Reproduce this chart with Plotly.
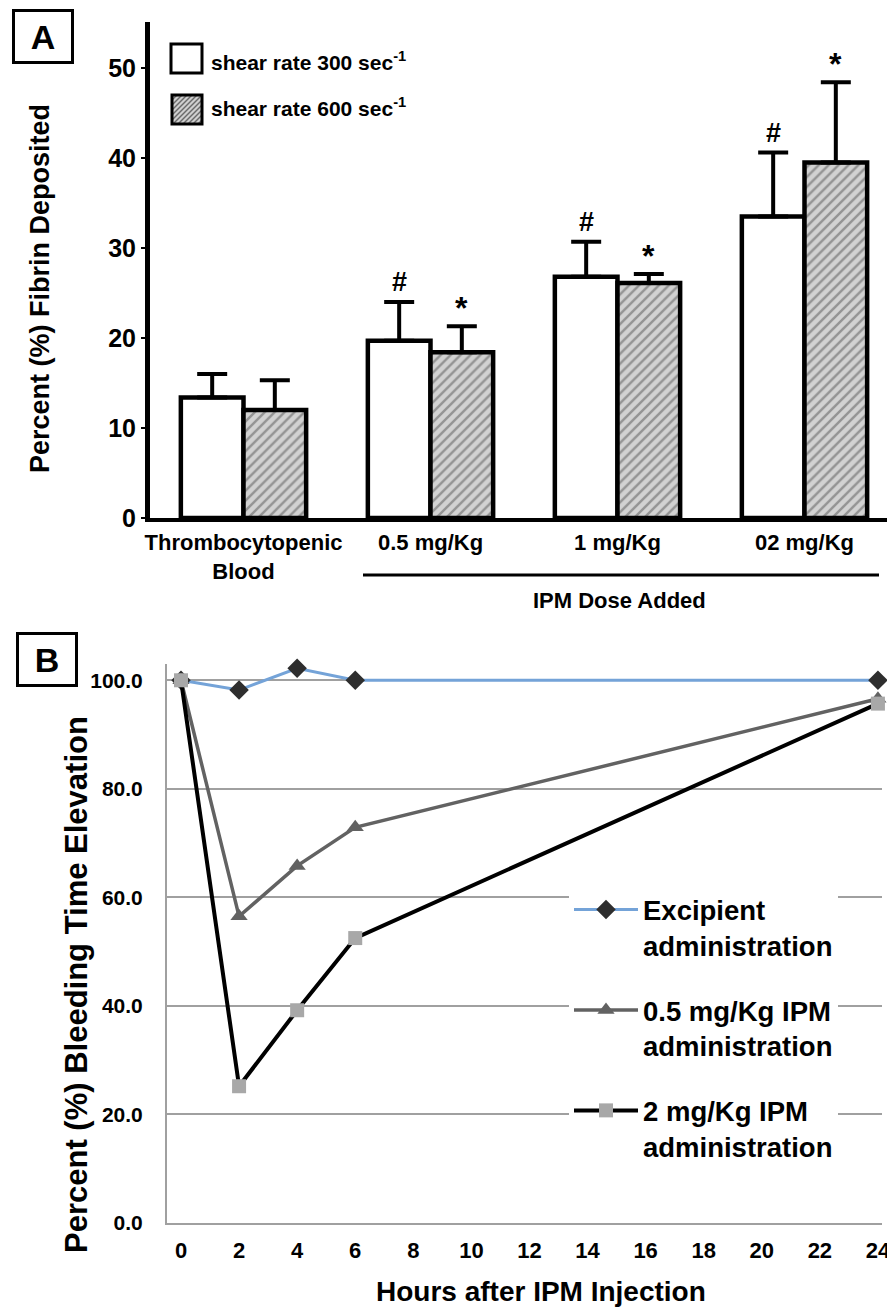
import plotly.graph_objects as go

# ---------------- Data ----------------
# Panel A
groups_a = ["Thrombocytopenic<br>Blood", "0.5 mg/Kg", "1 mg/Kg", "02 mg/Kg"]
shear300 = [13.4, 19.7, 26.8, 33.5]
shear300_err = [2.6, 4.3, 3.9, 7.1]
shear600 = [12.0, 18.4, 26.1, 39.5]
shear600_err = [3.3, 2.9, 1.0, 8.9]
sig300 = ["", "#", "#", "#"]
sig600 = ["", "*", "*", "*"]
legend_a = ["shear rate 300 sec<sup>-1</sup>", "shear rate 600 sec<sup>-1</sup>"]

# Panel B
hours = [0, 2, 4, 6, 24]
excipient = [100.0, 98.2, 102.2, 100.0, 100.0]
ipm_05 = [100.0, 56.5, 65.8, 72.9, 96.6]
ipm_2 = [100.0, 25.2, 39.2, 52.5, 95.7]
names_b = ["Excipient<br>administration", "0.5 mg/Kg IPM<br>administration",
           "2 mg/Kg IPM<br>administration"]
xticks_b = list(range(0, 25, 2))
yticks_b = [0, 20, 40, 60, 80, 100]

# page has an 8px body margin: draw a figure 8px smaller, place elements in page pixels
OFF = 8
W, H = 895 - OFF, 1311 - OFF
ARIAL = "Liberation Sans, Arial, Helvetica, sans-serif"


def px(x):
    return (x - OFF) / W


def py(y):
    return 1 - (y - OFF) / H


fig = go.Figure()

# ---------------- Panel A bars ----------------
xpos = list(range(len(groups_a)))
fig.add_trace(go.Bar(
    x=xpos, y=shear300, name=legend_a[0], showlegend=False,
    marker=dict(color="white", line=dict(color="black", width=4.5)),
    error_y=dict(type="data", array=shear300_err, symmetric=False,
                 arrayminus=[0] * 4, color="black", thickness=4, width=15),
    xaxis="x", yaxis="y"))
fig.add_trace(go.Bar(
    x=xpos, y=shear600, name=legend_a[1], showlegend=False,
    marker=dict(color="#c9c9c9", line=dict(color="black", width=4.5),
                pattern=dict(shape="/", fgcolor="#555555", bgcolor="#d2d2d2",
                             size=7, solidity=0.35)),
    error_y=dict(type="data", array=shear600_err, symmetric=False,
                 arrayminus=[0] * 4, color="black", thickness=4, width=15),
    xaxis="x", yaxis="y"))

annotations = []
half = 0.335 / 2
for i in range(len(groups_a)):
    if sig300[i]:
        annotations.append(dict(x=i - half, y=shear300[i] + shear300_err[i], xref="x", yref="y",
                                text=sig300[i], showarrow=False, yanchor="bottom", yshift=3,
                                font=dict(family=ARIAL, size=27, color="black", weight="bold")))
    if sig600[i]:
        annotations.append(dict(x=i + half, y=shear600[i] + shear600_err[i], xref="x", yref="y",
                                text=sig600[i], showarrow=False, yanchor="bottom", yshift=-2,
                                font=dict(family=ARIAL, size=32, color="black", weight="bold")))

# ---------------- Panel B lines ----------------
fig.add_trace(go.Scatter(
    x=hours, y=excipient, name=names_b[0], mode="lines+markers", legendgroup="g1",
    line=dict(color="#74a3d8", width=3),
    marker=dict(symbol="diamond", size=15, color="#2e2e2e"),
    cliponaxis=False, xaxis="x2", yaxis="y2"))
fig.add_trace(go.Scatter(
    x=hours, y=ipm_05, name=names_b[1], mode="lines+markers", legendgroup="g2",
    line=dict(color="#626262", width=3.5),
    marker=dict(symbol="triangle-up", size=15, color="#626262"),
    cliponaxis=False, xaxis="x2", yaxis="y2"))
fig.add_trace(go.Scatter(
    x=hours, y=ipm_2, name=names_b[2], mode="lines+markers", legendgroup="g3",
    line=dict(color="black", width=4),
    marker=dict(symbol="square", size=14, color="#a8a8a8"),
    cliponaxis=False, xaxis="x2", yaxis="y2"))

# ---------------- Shapes / manual legend for A ----------------
shapes = []
shapes.append(dict(type="rect", xref="paper", yref="paper",
                   x0=px(171), x1=px(202), y0=py(73), y1=py(44),
                   fillcolor="white", line=dict(color="black", width=3)))
bx0, bx1, by0, by1 = 172, 202, 95, 124
shapes.append(dict(type="rect", xref="paper", yref="paper",
                   x0=px(bx0), x1=px(bx1), y0=py(by1), y1=py(by0),
                   fillcolor="#cfcfcf", line=dict(width=0), layer="above"))
w, h = bx1 - bx0, by1 - by0
for c in range(-h, w, 5):
    u0, u1 = max(0, c), min(w, h + c)
    if u1 <= u0:
        continue
    shapes.append(dict(type="line", xref="paper", yref="paper",
                       x0=px(bx0 + u0), y0=py(by1 - (u0 - c)),
                       x1=px(bx0 + u1), y1=py(by1 - (u1 - c)),
                       line=dict(color="#6a6a6a", width=1.5), layer="above"))
shapes.append(dict(type="rect", xref="paper", yref="paper",
                   x0=px(bx0), x1=px(bx1), y0=py(by1), y1=py(by0),
                   fillcolor="rgba(0,0,0,0)", line=dict(color="black", width=3), layer="above"))
# line under dose labels
shapes.append(dict(type="line", xref="paper", yref="paper",
                   x0=px(363), x1=px(879), y0=py(575), y1=py(575),
                   line=dict(color="black", width=3)))

annotations += [
    dict(x=px(209), y=py(61), xref="paper", yref="paper", xanchor="left", yanchor="middle",
         text=legend_a[0], showarrow=False,
         font=dict(family=ARIAL, size=21, color="black", weight="bold")),
    dict(x=px(209), y=py(107), xref="paper", yref="paper", xanchor="left", yanchor="middle",
         text=legend_a[1], showarrow=False,
         font=dict(family=ARIAL, size=21, color="black", weight="bold")),
    dict(x=px(619), y=py(600), xref="paper", yref="paper", xanchor="center", yanchor="middle",
         text="IPM Dose Added", showarrow=False,
         font=dict(family=ARIAL, size=22, color="black", weight="bold")),
    dict(x=px(40), y=py(289), xref="paper", yref="paper", xanchor="center", yanchor="middle",
         text="Percent (%) Fibrin Deposited", textangle=-90, showarrow=False,
         font=dict(family=ARIAL, size=27, color="black", weight="bold")),
    dict(x=px(43), y=py(36.5), xref="paper", yref="paper", xanchor="center", yanchor="middle",
         text="A", showarrow=False, width=52, height=45, borderpad=2, borderwidth=3,
         bordercolor="black", font=dict(family=ARIAL, size=34, color="black", weight="bold")),
    dict(x=px(46.5), y=py(659.5), xref="paper", yref="paper", xanchor="center", yanchor="middle",
         text="B", showarrow=False, width=52, height=45, borderpad=2, borderwidth=3,
         bordercolor="black", font=dict(family=ARIAL, size=34, color="black", weight="bold")),
    dict(x=px(76), y=py(985), xref="paper", yref="paper", xanchor="center", yanchor="middle",
         text="Percent (%) Bleeding Time Elevation", textangle=-90, showarrow=False,
         font=dict(family=ARIAL, size=31, color="black", weight="bold")),
    dict(x=px(541), y=py(1291), xref="paper", yref="paper", xanchor="center", yanchor="middle",
         text="Hours after IPM Injection", showarrow=False,
         font=dict(family=ARIAL, size=28, color="black", weight="bold")),
]

fig.update_layout(
    width=W, height=H, margin=dict(l=0, r=0, t=0, b=0, pad=0, autoexpand=False),
    paper_bgcolor="white", plot_bgcolor="white",
    barmode="group", bargap=0.33, bargroupgap=0,
    showlegend=True,
    legend=dict(x=px(569), y=py(885), xanchor="left", yanchor="top",
                bgcolor="white", borderwidth=0, itemwidth=64, tracegroupgap=26,
                valign="top", font=dict(family=ARIAL, size=27.5, color="black", weight="bold")),
    xaxis=dict(domain=[px(150), 1], range=[-0.5, 3.484], tickvals=xpos, ticktext=groups_a,
               showline=True, linecolor="black", linewidth=4, showgrid=False, zeroline=False,
               ticks="outside", ticklen=2, tickcolor="rgba(0,0,0,0)", automargin=False,
               tickfont=dict(family=ARIAL, size=22, color="black", weight="bold"),
               anchor="y"),
    yaxis=dict(domain=[py(518), py(22)], range=[0, 55.1], tickvals=[0, 10, 20, 30, 40, 50],
               showline=True, linecolor="black", linewidth=5, showgrid=False, zeroline=False,
               ticks="outside", ticklen=4, tickwidth=2, tickcolor="black", automargin=False,
               tickfont=dict(family=ARIAL, size=25, color="black", weight="bold"),
               anchor="x"),
    xaxis2=dict(domain=[px(167), px(882)], range=[-0.482, 24.14], tickvals=xticks_b,
                showline=True, linecolor="#a0a0a0", linewidth=2, showgrid=False, zeroline=False,
                ticks="outside", ticklen=7, tickcolor="rgba(0,0,0,0)", automargin=False,
                tickfont=dict(family=ARIAL, size=22, color="black", weight="bold"),
                anchor="y2"),
    yaxis2=dict(domain=[py(1223), py(664)], range=[0, 103], tickvals=yticks_b,
                tickformat=".1f", showline=True, linecolor="#a0a0a0", linewidth=2,
                showgrid=True, gridcolor="#a0a0a0", gridwidth=1.5, zeroline=False,
                ticks="outside", ticklen=18, tickcolor="rgba(0,0,0,0)", automargin=False,
                tickfont=dict(family=ARIAL, size=21, color="black", weight="bold"),
                anchor="x2"),
    shapes=shapes, annotations=annotations,
)

fig.write_html("out.html")
